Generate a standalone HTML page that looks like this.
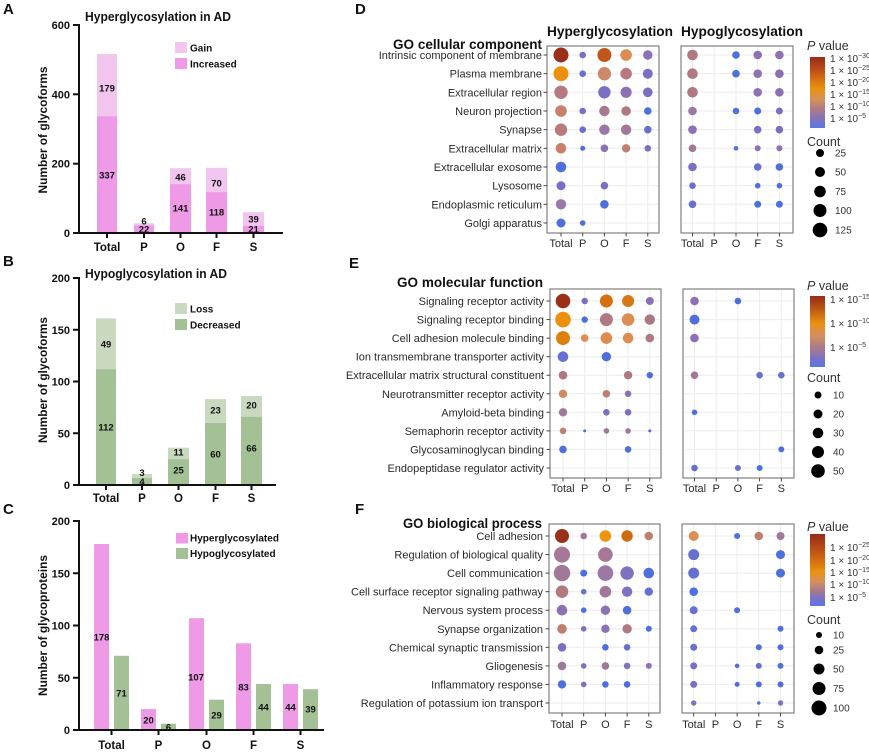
<!DOCTYPE html>
<html><head><meta charset="utf-8"><style>
html,body{margin:0;padding:0;background:#fff;}
svg{display:block;}
.b{font-family:"Liberation Sans",sans-serif;font-weight:bold;fill:#111;}
.r{font-family:"Liberation Sans",sans-serif;fill:#333;}
.lab{font-family:"Liberation Sans",sans-serif;font-size:11px;fill:#2a2a2a;text-anchor:end;}
.xl{font-family:"Liberation Sans",sans-serif;font-size:11px;fill:#2a2a2a;text-anchor:middle;}
.nb{font-family:"Liberation Sans",sans-serif;font-weight:bold;font-size:9.5px;fill:#111;text-anchor:middle;}
.tk{font-family:"Liberation Sans",sans-serif;font-weight:bold;font-size:11px;fill:#111;text-anchor:end;}
.xb{font-family:"Liberation Sans",sans-serif;font-weight:bold;font-size:11.5px;fill:#111;text-anchor:middle;}
.lg{font-family:"Liberation Sans",sans-serif;font-size:10px;fill:#333;}
.grid line{stroke:#ebebeb;stroke-width:1;}
</style></head><body>
<svg width="869" height="752" viewBox="0 0 869 752" xmlns="http://www.w3.org/2000/svg">
<defs>
<linearGradient id="gD" x1="0" y1="0" x2="0" y2="1">
<stop offset="0" stop-color="#972c17"/><stop offset="0.15" stop-color="#b64718"/><stop offset="0.35" stop-color="#dd7a10"/><stop offset="0.45" stop-color="#ea920e"/><stop offset="0.6" stop-color="#d4905e"/><stop offset="0.72" stop-color="#b37d7e"/><stop offset="0.85" stop-color="#8a72b6"/><stop offset="1" stop-color="#5878e4"/>
</linearGradient>
<linearGradient id="gE" x1="0" y1="0" x2="0" y2="1">
<stop offset="0" stop-color="#972c17"/><stop offset="0.15" stop-color="#b54d16"/><stop offset="0.38" stop-color="#e8900e"/><stop offset="0.55" stop-color="#d4905e"/><stop offset="0.72" stop-color="#ad7b86"/><stop offset="0.88" stop-color="#7c70c6"/><stop offset="1" stop-color="#5878e4"/>
</linearGradient>
<linearGradient id="gF" x1="0" y1="0" x2="0" y2="1">
<stop offset="0" stop-color="#972c17"/><stop offset="0.2" stop-color="#b84c16"/><stop offset="0.4" stop-color="#d97510"/><stop offset="0.52" stop-color="#ea920e"/><stop offset="0.66" stop-color="#d4905e"/><stop offset="0.78" stop-color="#ab7a88"/><stop offset="0.9" stop-color="#7a70c8"/><stop offset="1" stop-color="#5878e4"/>
</linearGradient>
</defs>

<!-- ================= Panel A ================= -->
<text class="b" x="3" y="14" font-size="15">A</text>
<text class="b" x="85" y="21" font-size="12.5" textLength="146" lengthAdjust="spacingAndGlyphs">Hyperglycosylation in AD</text>
<text class="b" font-size="11.5" transform="translate(47,130) rotate(-90)" text-anchor="middle" textLength="127" lengthAdjust="spacingAndGlyphs">Number of glycoforms</text>
<g fill="#f1c5ed">
<rect x="97" y="54.1" width="20" height="62.1"/>
<rect x="134" y="223.3" width="20" height="2.1"/>
<rect x="170" y="168.2" width="21" height="15.9"/>
<rect x="206" y="167.8" width="21" height="24.3"/>
<rect x="243" y="212.2" width="21" height="13.5"/>
</g>
<g fill="#ee9ae6">
<rect x="97" y="116.2" width="20" height="116.8"/>
<rect x="134" y="225.4" width="20" height="7.6"/>
<rect x="170" y="184.1" width="21" height="48.9"/>
<rect x="206" y="192.1" width="21" height="40.9"/>
<rect x="243" y="225.7" width="21" height="7.3"/>
</g>
<g stroke="#111" stroke-width="2" fill="none">
<line x1="79" y1="24" x2="79" y2="234"/>
<line x1="78" y1="233" x2="283" y2="233"/>
<line x1="73" y1="25" x2="79" y2="25"/><line x1="73" y1="94.3" x2="79" y2="94.3"/><line x1="73" y1="163.7" x2="79" y2="163.7"/><line x1="73" y1="233" x2="79" y2="233"/>
<line x1="107" y1="233" x2="107" y2="238"/><line x1="144" y1="233" x2="144" y2="238"/><line x1="180.5" y1="233" x2="180.5" y2="238"/><line x1="216.5" y1="233" x2="216.5" y2="238"/><line x1="253.5" y1="233" x2="253.5" y2="238"/>
</g>
<text class="tk" x="70" y="29">600</text><text class="tk" x="70" y="98.3">400</text><text class="tk" x="70" y="167.7">200</text><text class="tk" x="70" y="237">0</text>
<text class="xb" x="107" y="251">Total</text><text class="xb" x="144" y="251">P</text><text class="xb" x="180.5" y="251">O</text><text class="xb" x="216.5" y="251">F</text><text class="xb" x="253.5" y="251">S</text>
<text class="nb" x="107" y="91.5">179</text><text class="nb" x="107" y="178.5">337</text>
<text class="nb" x="144" y="224.5">6</text><text class="nb" x="144" y="232.5">22</text>
<text class="nb" x="180.5" y="180.5">46</text><text class="nb" x="180.5" y="211.5">141</text>
<text class="nb" x="216.5" y="186.5">70</text><text class="nb" x="216.5" y="215.5">118</text>
<text class="nb" x="253.5" y="222.5">39</text><text class="nb" x="253.5" y="232.5">21</text>
<rect x="175" y="42" width="12" height="11" fill="#f1c5ed"/>
<rect x="175" y="58" width="12" height="11" fill="#ee9ae6"/>
<text class="b" x="190" y="51.5" font-size="10">Gain</text>
<text class="b" x="190" y="67.5" font-size="10">Increased</text>

<!-- ================= Panel B ================= -->
<text class="b" x="3" y="266" font-size="15">B</text>
<text class="b" x="85" y="278" font-size="12.5" textLength="142" lengthAdjust="spacingAndGlyphs">Hypoglycosylation in AD</text>
<text class="b" font-size="11.5" transform="translate(47,380) rotate(-90)" text-anchor="middle" textLength="126" lengthAdjust="spacingAndGlyphs">Number of glycoforms</text>
<g fill="#c9d9c0">
<rect x="96" y="318.4" width="20" height="50.7"/>
<rect x="132" y="474" width="20" height="4"/>
<rect x="168" y="447.7" width="21" height="11.4"/>
<rect x="205" y="399.1" width="21" height="23.8"/>
<rect x="241" y="396" width="21" height="20.7"/>
</g>
<g fill="#a4c196">
<rect x="96" y="369.1" width="20" height="115.9"/>
<rect x="132" y="478" width="20" height="7"/>
<rect x="168" y="459.1" width="21" height="25.9"/>
<rect x="205" y="422.9" width="21" height="62.1"/>
<rect x="241" y="416.7" width="21" height="68.3"/>
</g>
<g stroke="#111" stroke-width="2" fill="none">
<line x1="79" y1="277" x2="79" y2="486"/>
<line x1="78" y1="485" x2="276" y2="485"/>
<line x1="73" y1="278" x2="79" y2="278"/><line x1="73" y1="329.75" x2="79" y2="329.75"/><line x1="73" y1="381.5" x2="79" y2="381.5"/><line x1="73" y1="433.25" x2="79" y2="433.25"/><line x1="73" y1="485" x2="79" y2="485"/>
<line x1="106" y1="485" x2="106" y2="490"/><line x1="142" y1="485" x2="142" y2="490"/><line x1="178.5" y1="485" x2="178.5" y2="490"/><line x1="215.5" y1="485" x2="215.5" y2="490"/><line x1="251.5" y1="485" x2="251.5" y2="490"/>
</g>
<text class="tk" x="70" y="282">200</text><text class="tk" x="70" y="333.75">150</text><text class="tk" x="70" y="385.5">100</text><text class="tk" x="70" y="437.25">50</text><text class="tk" x="70" y="489">0</text>
<text class="xb" x="106" y="502">Total</text><text class="xb" x="142" y="502">P</text><text class="xb" x="178.5" y="502">O</text><text class="xb" x="215.5" y="502">F</text><text class="xb" x="251.5" y="502">S</text>
<text class="nb" x="106" y="347.5">49</text><text class="nb" x="106" y="430.5">112</text>
<text class="nb" x="142" y="476">3</text><text class="nb" x="142" y="485">4</text>
<text class="nb" x="178.5" y="455.5">11</text><text class="nb" x="178.5" y="473.5">25</text>
<text class="nb" x="215.5" y="413.5">23</text><text class="nb" x="215.5" y="457.5">60</text>
<text class="nb" x="251.5" y="408.5">20</text><text class="nb" x="251.5" y="451.5">66</text>
<rect x="175" y="303" width="12" height="11" fill="#c9d9c0"/>
<rect x="175" y="319" width="12" height="11" fill="#a4c196"/>
<text class="b" x="190" y="312.5" font-size="10">Loss</text>
<text class="b" x="190" y="328.5" font-size="10">Decreased</text>

<!-- ================= Panel C ================= -->
<text class="b" x="3" y="514" font-size="15">C</text>
<text class="b" font-size="11.5" transform="translate(47,625.5) rotate(-90)" text-anchor="middle" textLength="141" lengthAdjust="spacingAndGlyphs">Number of glycoproteins</text>
<g fill="#ee9ae6">
<rect x="94" y="544" width="15" height="186"/>
<rect x="141" y="709.1" width="15" height="20.9"/>
<rect x="189" y="618.2" width="15" height="111.8"/>
<rect x="236" y="643.3" width="15" height="86.7"/>
<rect x="283" y="684" width="15" height="46"/>
</g>
<g fill="#a4c196">
<rect x="114" y="655.8" width="15" height="74.2"/>
<rect x="161" y="723.7" width="15" height="6.3"/>
<rect x="209" y="699.7" width="15" height="30.3"/>
<rect x="256" y="684" width="15" height="46"/>
<rect x="303" y="689.2" width="15" height="40.8"/>
</g>
<g stroke="#111" stroke-width="2" fill="none">
<line x1="79" y1="520" x2="79" y2="731"/>
<line x1="78" y1="730" x2="324" y2="730"/>
<line x1="73" y1="521" x2="79" y2="521"/><line x1="73" y1="573.25" x2="79" y2="573.25"/><line x1="73" y1="625.5" x2="79" y2="625.5"/><line x1="73" y1="677.75" x2="79" y2="677.75"/><line x1="73" y1="730" x2="79" y2="730"/>
<line x1="111.5" y1="730" x2="111.5" y2="735"/><line x1="158.5" y1="730" x2="158.5" y2="735"/><line x1="206.5" y1="730" x2="206.5" y2="735"/><line x1="253.5" y1="730" x2="253.5" y2="735"/><line x1="300.5" y1="730" x2="300.5" y2="735"/>
</g>
<text class="tk" x="70" y="525">200</text><text class="tk" x="70" y="577.25">150</text><text class="tk" x="70" y="629.5">100</text><text class="tk" x="70" y="681.75">50</text><text class="tk" x="70" y="734">0</text>
<text class="xb" x="111.5" y="749">Total</text><text class="xb" x="158.5" y="749">P</text><text class="xb" x="206.5" y="749">O</text><text class="xb" x="253.5" y="749">F</text><text class="xb" x="300.5" y="749">S</text>
<text class="nb" x="101.5" y="640.5">178</text><text class="nb" x="121.5" y="696.5">71</text>
<text class="nb" x="148.5" y="723.5">20</text><text class="nb" x="168.5" y="730.5">6</text>
<text class="nb" x="196" y="680.5">107</text><text class="nb" x="216.5" y="718.5">29</text>
<text class="nb" x="243.5" y="690.5">83</text><text class="nb" x="263.5" y="710.5">44</text>
<text class="nb" x="290.5" y="710.5">44</text><text class="nb" x="310.5" y="712.5">39</text>
<rect x="176" y="533" width="12" height="10.5" fill="#ee9ae6"/>
<rect x="176" y="548" width="12" height="11" fill="#a4c196"/>
<text class="b" x="190" y="541.5" font-size="10">Hyperglycosylated</text>
<text class="b" x="190" y="557" font-size="10">Hypoglycosylated</text>

<!-- ================= Panel D ================= -->
<text class="b" x="355" y="14" font-size="15">D</text>
<text class="b" x="547" y="36" font-size="14" textLength="126" lengthAdjust="spacingAndGlyphs">Hyperglycosylation</text>
<text class="b" x="681" y="36" font-size="14" textLength="122" lengthAdjust="spacingAndGlyphs">Hypoglycosylation</text>
<text class="b" x="542" y="49" font-size="14" text-anchor="end" textLength="149" lengthAdjust="spacingAndGlyphs">GO cellular component</text>
<g class="grid">
<line x1="547" y1="55" x2="659" y2="55"/><line x1="547" y1="73.7" x2="659" y2="73.7"/><line x1="547" y1="92.3" x2="659" y2="92.3"/><line x1="547" y1="111" x2="659" y2="111"/><line x1="547" y1="129.7" x2="659" y2="129.7"/><line x1="547" y1="148.3" x2="659" y2="148.3"/><line x1="547" y1="167" x2="659" y2="167"/><line x1="547" y1="185.7" x2="659" y2="185.7"/><line x1="547" y1="204.3" x2="659" y2="204.3"/><line x1="547" y1="223" x2="659" y2="223"/>
<line x1="561" y1="46" x2="561" y2="233"/><line x1="582.7" y1="46" x2="582.7" y2="233"/><line x1="604.4" y1="46" x2="604.4" y2="233"/><line x1="626.1" y1="46" x2="626.1" y2="233"/><line x1="647.8" y1="46" x2="647.8" y2="233"/>
<line x1="681" y1="55" x2="793" y2="55"/><line x1="681" y1="73.7" x2="793" y2="73.7"/><line x1="681" y1="92.3" x2="793" y2="92.3"/><line x1="681" y1="111" x2="793" y2="111"/><line x1="681" y1="129.7" x2="793" y2="129.7"/><line x1="681" y1="148.3" x2="793" y2="148.3"/><line x1="681" y1="167" x2="793" y2="167"/><line x1="681" y1="185.7" x2="793" y2="185.7"/><line x1="681" y1="204.3" x2="793" y2="204.3"/><line x1="681" y1="223" x2="793" y2="223"/>
<line x1="692.5" y1="46" x2="692.5" y2="233"/><line x1="714.2" y1="46" x2="714.2" y2="233"/><line x1="736" y1="46" x2="736" y2="233"/><line x1="757.7" y1="46" x2="757.7" y2="233"/><line x1="779.4" y1="46" x2="779.4" y2="233"/>
</g>
<rect x="547" y="46" width="112" height="187" fill="none" stroke="#808080" stroke-width="1.2"/>
<rect x="681" y="46" width="112" height="187" fill="none" stroke="#808080" stroke-width="1.2"/>
<g stroke="#333" stroke-width="0.9">
<line x1="543.5" y1="55" x2="547" y2="55"/><line x1="543.5" y1="73.7" x2="547" y2="73.7"/><line x1="543.5" y1="92.3" x2="547" y2="92.3"/><line x1="543.5" y1="111" x2="547" y2="111"/><line x1="543.5" y1="129.7" x2="547" y2="129.7"/><line x1="543.5" y1="148.3" x2="547" y2="148.3"/><line x1="543.5" y1="167" x2="547" y2="167"/><line x1="543.5" y1="185.7" x2="547" y2="185.7"/><line x1="543.5" y1="204.3" x2="547" y2="204.3"/><line x1="543.5" y1="223" x2="547" y2="223"/>
<line x1="561" y1="233" x2="561" y2="236.5"/><line x1="582.7" y1="233" x2="582.7" y2="236.5"/><line x1="604.4" y1="233" x2="604.4" y2="236.5"/><line x1="626.1" y1="233" x2="626.1" y2="236.5"/><line x1="647.8" y1="233" x2="647.8" y2="236.5"/>
<line x1="692.5" y1="233" x2="692.5" y2="236.5"/><line x1="714.2" y1="233" x2="714.2" y2="236.5"/><line x1="736" y1="233" x2="736" y2="236.5"/><line x1="757.7" y1="233" x2="757.7" y2="236.5"/><line x1="779.4" y1="233" x2="779.4" y2="236.5"/>
</g>
<text class="lab" x="542" y="59">Intrinsic component of membrane</text>
<text class="lab" x="542" y="77.7">Plasma membrane</text>
<text class="lab" x="542" y="96.3">Extracellular region</text>
<text class="lab" x="542" y="115">Neuron projection</text>
<text class="lab" x="542" y="133.7">Synapse</text>
<text class="lab" x="542" y="152.3">Extracellular matrix</text>
<text class="lab" x="542" y="171">Extracellular exosome</text>
<text class="lab" x="542" y="189.7">Lysosome</text>
<text class="lab" x="542" y="208.3">Endoplasmic reticulum</text>
<text class="lab" x="542" y="227">Golgi apparatus</text>
<text class="xl" x="561" y="247">Total</text><text class="xl" x="582.7" y="247">P</text><text class="xl" x="604.4" y="247">O</text><text class="xl" x="626.1" y="247">F</text><text class="xl" x="647.8" y="247">S</text>
<text class="xl" x="692.5" y="247">Total</text><text class="xl" x="714.2" y="247">P</text><text class="xl" x="736" y="247">O</text><text class="xl" x="757.7" y="247">F</text><text class="xl" x="779.4" y="247">S</text>
<g>
<circle cx="561" cy="55" r="7.5" fill="#9a3019"/><circle cx="582.7" cy="55" r="3.3" fill="#7b6fc4"/><circle cx="604.4" cy="55" r="7" fill="#c0561a"/><circle cx="626.1" cy="55" r="5.8" fill="#dd8d52"/><circle cx="647.8" cy="55" r="4.7" fill="#8c72b4"/>
<circle cx="561" cy="73.7" r="7.5" fill="#ec900e"/><circle cx="582.7" cy="73.7" r="3.3" fill="#6670d0"/><circle cx="604.4" cy="73.7" r="6.7" fill="#cc8a6c"/><circle cx="626.1" cy="73.7" r="5.8" fill="#b87a80"/><circle cx="647.8" cy="73.7" r="5" fill="#7b6fc4"/>
<circle cx="561" cy="92.3" r="6.7" fill="#b47a80"/><circle cx="604.4" cy="92.3" r="6.2" fill="#7b6fc4"/><circle cx="626.1" cy="92.3" r="5.6" fill="#8c72b4"/><circle cx="647.8" cy="92.3" r="4.8" fill="#7b6fc4"/>
<circle cx="561" cy="111" r="5.8" fill="#c8806a"/><circle cx="582.7" cy="111" r="3.3" fill="#7b6fc4"/><circle cx="604.4" cy="111" r="5.2" fill="#a87890"/><circle cx="626.1" cy="111" r="4.8" fill="#b07880"/><circle cx="647.8" cy="111" r="3.8" fill="#4f6fdc"/>
<circle cx="561" cy="129.7" r="6.2" fill="#b87a7c"/><circle cx="582.7" cy="129.7" r="3.3" fill="#6670d0"/><circle cx="604.4" cy="129.7" r="5.2" fill="#9a76a8"/><circle cx="626.1" cy="129.7" r="5.2" fill="#a0789c"/><circle cx="647.8" cy="129.7" r="3.8" fill="#6670d0"/>
<circle cx="561" cy="148.3" r="5.3" fill="#c8806a"/><circle cx="582.7" cy="148.3" r="2.5" fill="#4f6fdc"/><circle cx="604.4" cy="148.3" r="3.8" fill="#8c72b4"/><circle cx="626.1" cy="148.3" r="4.2" fill="#c08070"/><circle cx="647.8" cy="148.3" r="3.3" fill="#7b6fc4"/>
<circle cx="561" cy="167" r="5.3" fill="#4f6fdc"/>
<circle cx="561" cy="185.7" r="4.5" fill="#7b6fc4"/><circle cx="604.4" cy="185.7" r="3.8" fill="#7b6fc4"/>
<circle cx="561" cy="204.3" r="5.2" fill="#9a78a8"/><circle cx="604.4" cy="204.3" r="4.3" fill="#4f6fdc"/>
<circle cx="561" cy="223" r="4.5" fill="#4f6fdc"/><circle cx="582.7" cy="223" r="2.8" fill="#4f6fdc"/>

<circle cx="692.5" cy="55" r="5.3" fill="#b07880"/><circle cx="736" cy="55" r="3.8" fill="#4f6fdc"/><circle cx="757.7" cy="55" r="4.3" fill="#8c72b4"/><circle cx="779.4" cy="55" r="4.3" fill="#9070b0"/>
<circle cx="692.5" cy="73.7" r="5.3" fill="#b07880"/><circle cx="736" cy="73.7" r="3.8" fill="#4f6fdc"/><circle cx="757.7" cy="73.7" r="4.3" fill="#9070b0"/><circle cx="779.4" cy="73.7" r="4.3" fill="#9070b0"/>
<circle cx="692.5" cy="92.3" r="5.3" fill="#b07880"/><circle cx="757.7" cy="92.3" r="4.3" fill="#9070b0"/><circle cx="779.4" cy="92.3" r="4.3" fill="#9070b0"/>
<circle cx="692.5" cy="111" r="4.3" fill="#9c76a4"/><circle cx="736" cy="111" r="3.3" fill="#4f6fdc"/><circle cx="757.7" cy="111" r="3.5" fill="#4f6fdc"/><circle cx="779.4" cy="111" r="3.5" fill="#7b6fc4"/>
<circle cx="692.5" cy="129.7" r="4.3" fill="#8c72b4"/><circle cx="757.7" cy="129.7" r="3.8" fill="#7b6fc4"/><circle cx="779.4" cy="129.7" r="3.8" fill="#7b6fc4"/>
<circle cx="692.5" cy="148.3" r="3.8" fill="#a07898"/><circle cx="736" cy="148.3" r="2.3" fill="#4f6fdc"/><circle cx="757.7" cy="148.3" r="3" fill="#8c72b4"/><circle cx="779.4" cy="148.3" r="3" fill="#8c72b4"/>
<circle cx="692.5" cy="167" r="4.3" fill="#7b6fc4"/><circle cx="757.7" cy="167" r="3.8" fill="#6670d0"/><circle cx="779.4" cy="167" r="3.8" fill="#4f6fdc"/>
<circle cx="692.5" cy="185.7" r="3.3" fill="#6670d0"/><circle cx="757.7" cy="185.7" r="2.8" fill="#4f6fdc"/><circle cx="779.4" cy="185.7" r="2.8" fill="#4f6fdc"/>
<circle cx="692.5" cy="204.3" r="3.8" fill="#6670d0"/><circle cx="757.7" cy="204.3" r="3.5" fill="#4f6fdc"/><circle cx="779.4" cy="204.3" r="3.5" fill="#4f6fdc"/>
</g>
<!-- D legend -->
<text class="r" x="807" y="50" font-size="12.5"><tspan font-style="italic">P</tspan> value</text>
<rect x="810" y="57" width="15" height="71" fill="url(#gD)"/>
<text class="lg" x="830" y="62">1 × 10<tspan dy="-4" font-size="7">−30</tspan></text>
<text class="lg" x="830" y="74">1 × 10<tspan dy="-4" font-size="7">−25</tspan></text>
<text class="lg" x="830" y="86">1 × 10<tspan dy="-4" font-size="7">−20</tspan></text>
<text class="lg" x="830" y="98">1 × 10<tspan dy="-4" font-size="7">−15</tspan></text>
<text class="lg" x="830" y="110">1 × 10<tspan dy="-4" font-size="7">−10</tspan></text>
<text class="lg" x="830" y="122">1 × 10<tspan dy="-4" font-size="7">−5</tspan></text>
<text class="r" x="807" y="146" font-size="12.5">Count</text>
<circle cx="820" cy="153" r="4" fill="#000"/><circle cx="820" cy="172" r="5" fill="#000"/><circle cx="820" cy="191.5" r="5.8" fill="#000"/><circle cx="820" cy="210.5" r="6.5" fill="#000"/><circle cx="820" cy="230" r="7.3" fill="#000"/>
<text class="lg" x="835" y="156.5" font-size="10.5">25</text><text class="lg" x="835" y="175.5" font-size="10.5">50</text><text class="lg" x="835" y="195" font-size="10.5">75</text><text class="lg" x="835" y="214" font-size="10.5">100</text><text class="lg" x="835" y="233.5" font-size="10.5">125</text>

<!-- ================= Panel E ================= -->
<text class="b" x="349" y="268" font-size="15">E</text>
<text class="b" x="543" y="287" font-size="14" text-anchor="end" textLength="146" lengthAdjust="spacingAndGlyphs">GO molecular function</text>
<g class="grid">
<line x1="550" y1="301" x2="661" y2="301"/><line x1="550" y1="319.6" x2="661" y2="319.6"/><line x1="550" y1="338.1" x2="661" y2="338.1"/><line x1="550" y1="356.7" x2="661" y2="356.7"/><line x1="550" y1="375.2" x2="661" y2="375.2"/><line x1="550" y1="393.8" x2="661" y2="393.8"/><line x1="550" y1="412.3" x2="661" y2="412.3"/><line x1="550" y1="430.9" x2="661" y2="430.9"/><line x1="550" y1="449.4" x2="661" y2="449.4"/><line x1="550" y1="468" x2="661" y2="468"/>
<line x1="563" y1="289" x2="563" y2="478"/><line x1="584.7" y1="289" x2="584.7" y2="478"/><line x1="606.4" y1="289" x2="606.4" y2="478"/><line x1="628.1" y1="289" x2="628.1" y2="478"/><line x1="649.8" y1="289" x2="649.8" y2="478"/>
<line x1="683" y1="301" x2="794" y2="301"/><line x1="683" y1="319.6" x2="794" y2="319.6"/><line x1="683" y1="338.1" x2="794" y2="338.1"/><line x1="683" y1="356.7" x2="794" y2="356.7"/><line x1="683" y1="375.2" x2="794" y2="375.2"/><line x1="683" y1="393.8" x2="794" y2="393.8"/><line x1="683" y1="412.3" x2="794" y2="412.3"/><line x1="683" y1="430.9" x2="794" y2="430.9"/><line x1="683" y1="449.4" x2="794" y2="449.4"/><line x1="683" y1="468" x2="794" y2="468"/>
<line x1="694.5" y1="289" x2="694.5" y2="478"/><line x1="716.2" y1="289" x2="716.2" y2="478"/><line x1="737.9" y1="289" x2="737.9" y2="478"/><line x1="759.6" y1="289" x2="759.6" y2="478"/><line x1="781.3" y1="289" x2="781.3" y2="478"/>
</g>
<rect x="550" y="289" width="111" height="189" fill="none" stroke="#808080" stroke-width="1.2"/>
<rect x="683" y="289" width="111" height="189" fill="none" stroke="#808080" stroke-width="1.2"/>
<g stroke="#333" stroke-width="0.9">
<line x1="546.5" y1="301" x2="550" y2="301"/><line x1="546.5" y1="319.6" x2="550" y2="319.6"/><line x1="546.5" y1="338.1" x2="550" y2="338.1"/><line x1="546.5" y1="356.7" x2="550" y2="356.7"/><line x1="546.5" y1="375.2" x2="550" y2="375.2"/><line x1="546.5" y1="393.8" x2="550" y2="393.8"/><line x1="546.5" y1="412.3" x2="550" y2="412.3"/><line x1="546.5" y1="430.9" x2="550" y2="430.9"/><line x1="546.5" y1="449.4" x2="550" y2="449.4"/><line x1="546.5" y1="468" x2="550" y2="468"/>
<line x1="563" y1="478" x2="563" y2="481.5"/><line x1="584.7" y1="478" x2="584.7" y2="481.5"/><line x1="606.4" y1="478" x2="606.4" y2="481.5"/><line x1="628.1" y1="478" x2="628.1" y2="481.5"/><line x1="649.8" y1="478" x2="649.8" y2="481.5"/>
<line x1="694.5" y1="478" x2="694.5" y2="481.5"/><line x1="716.2" y1="478" x2="716.2" y2="481.5"/><line x1="737.9" y1="478" x2="737.9" y2="481.5"/><line x1="759.6" y1="478" x2="759.6" y2="481.5"/><line x1="781.3" y1="478" x2="781.3" y2="481.5"/>
</g>
<text class="lab" x="544" y="305">Signaling receptor activity</text>
<text class="lab" x="544" y="323.6">Signaling receptor binding</text>
<text class="lab" x="544" y="342.1">Cell adhesion molecule binding</text>
<text class="lab" x="544" y="360.7">Ion transmembrane transporter activity</text>
<text class="lab" x="544" y="379.2">Extracellular matrix structural constituent</text>
<text class="lab" x="544" y="397.8">Neurotransmitter receptor activity</text>
<text class="lab" x="544" y="416.3">Amyloid-beta binding</text>
<text class="lab" x="544" y="434.9">Semaphorin receptor activity</text>
<text class="lab" x="544" y="453.4">Glycosaminoglycan binding</text>
<text class="lab" x="544" y="472">Endopeptidase regulator activity</text>
<text class="xl" x="563" y="492">Total</text><text class="xl" x="584.7" y="492">P</text><text class="xl" x="606.4" y="492">O</text><text class="xl" x="628.1" y="492">F</text><text class="xl" x="649.8" y="492">S</text>
<text class="xl" x="694.5" y="492">Total</text><text class="xl" x="716.2" y="492">P</text><text class="xl" x="737.9" y="492">O</text><text class="xl" x="759.6" y="492">F</text><text class="xl" x="781.3" y="492">S</text>
<g>
<circle cx="563" cy="301" r="7.3" fill="#9a3019"/><circle cx="584.7" cy="301" r="3.2" fill="#7b6fc4"/><circle cx="606.4" cy="301" r="6.5" fill="#d4700e"/><circle cx="628.1" cy="301" r="6" fill="#d87814"/><circle cx="649.8" cy="301" r="4" fill="#8c72b4"/>
<circle cx="563" cy="319.6" r="7.8" fill="#ec900e"/><circle cx="584.7" cy="319.6" r="3.2" fill="#4f6fdc"/><circle cx="606.4" cy="319.6" r="6.5" fill="#b07880"/><circle cx="628.1" cy="319.6" r="6.3" fill="#dd8d52"/><circle cx="649.8" cy="319.6" r="5.2" fill="#a87884"/>
<circle cx="563" cy="338.1" r="7" fill="#de800e"/><circle cx="584.7" cy="338.1" r="3.8" fill="#dd8d52"/><circle cx="606.4" cy="338.1" r="5.8" fill="#dd8d52"/><circle cx="628.1" cy="338.1" r="5.3" fill="#dd8d52"/><circle cx="649.8" cy="338.1" r="4.3" fill="#b07880"/>
<circle cx="563" cy="356.7" r="5.3" fill="#6670d0"/><circle cx="606.4" cy="356.7" r="4.7" fill="#4f6fdc"/>
<circle cx="563" cy="375.2" r="4.3" fill="#b07880"/><circle cx="628.1" cy="375.2" r="4.2" fill="#b07880"/><circle cx="649.8" cy="375.2" r="3.2" fill="#4f6fdc"/>
<circle cx="563" cy="393.8" r="4.2" fill="#d08a60"/><circle cx="606.4" cy="393.8" r="3.8" fill="#c08070"/><circle cx="628.1" cy="393.8" r="3.3" fill="#8c72b4"/>
<circle cx="563" cy="412.3" r="4.2" fill="#a07898"/><circle cx="606.4" cy="412.3" r="3.3" fill="#7b6fc4"/><circle cx="628.1" cy="412.3" r="3.3" fill="#7b6fc4"/>
<circle cx="563" cy="430.9" r="3.3" fill="#c08070"/><circle cx="584.7" cy="430.9" r="1.5" fill="#4f6fdc"/><circle cx="606.4" cy="430.9" r="2.8" fill="#a07898"/><circle cx="628.1" cy="430.9" r="2.8" fill="#a07898"/><circle cx="649.8" cy="430.9" r="1.5" fill="#4f6fdc"/>
<circle cx="563" cy="449.4" r="3.8" fill="#4f6fdc"/><circle cx="628.1" cy="449.4" r="3.3" fill="#4f6fdc"/>

<circle cx="694.5" cy="301" r="4.3" fill="#8c72b4"/><circle cx="737.9" cy="301" r="3.3" fill="#4f6fdc"/>
<circle cx="694.5" cy="319.6" r="5" fill="#4f6fdc"/>
<circle cx="694.5" cy="338.1" r="4.3" fill="#8c72b4"/>
<circle cx="694.5" cy="375.2" r="3.8" fill="#a07898"/><circle cx="759.6" cy="375.2" r="3.3" fill="#6670d0"/><circle cx="781.3" cy="375.2" r="3.3" fill="#6670d0"/>
<circle cx="694.5" cy="412.3" r="2.8" fill="#4f6fdc"/>
<circle cx="781.3" cy="449.4" r="3" fill="#4f6fdc"/>
<circle cx="694.5" cy="468" r="3.3" fill="#6670d0"/><circle cx="737.9" cy="468" r="3" fill="#6670d0"/><circle cx="759.6" cy="468" r="3" fill="#4f6fdc"/>
</g>
<!-- E legend -->
<text class="r" x="807" y="290" font-size="12.5"><tspan font-style="italic">P</tspan> value</text>
<rect x="810" y="296" width="15" height="71" fill="url(#gE)"/>
<text class="lg" x="830" y="303">1 × 10<tspan dy="-4" font-size="7">−15</tspan></text>
<text class="lg" x="830" y="327">1 × 10<tspan dy="-4" font-size="7">−10</tspan></text>
<text class="lg" x="830" y="351">1 × 10<tspan dy="-4" font-size="7">−5</tspan></text>
<text class="r" x="807" y="382" font-size="12.5">Count</text>
<circle cx="818" cy="395" r="3.5" fill="#000"/><circle cx="818" cy="414" r="4.5" fill="#000"/><circle cx="818" cy="433" r="5.3" fill="#000"/><circle cx="818" cy="452" r="6" fill="#000"/><circle cx="818" cy="471" r="6.8" fill="#000"/>
<text class="lg" x="833" y="398.5" font-size="10.5">10</text><text class="lg" x="833" y="417.5" font-size="10.5">20</text><text class="lg" x="833" y="436.5" font-size="10.5">30</text><text class="lg" x="833" y="455.5" font-size="10.5">40</text><text class="lg" x="833" y="474.5" font-size="10.5">50</text>

<!-- ================= Panel F ================= -->
<text class="b" x="355" y="514" font-size="15">F</text>
<text class="b" x="542" y="528" font-size="14" text-anchor="end" textLength="139" lengthAdjust="spacingAndGlyphs">GO biological process</text>
<g class="grid">
<line x1="549" y1="536" x2="660" y2="536"/><line x1="549" y1="554.6" x2="660" y2="554.6"/><line x1="549" y1="573.1" x2="660" y2="573.1"/><line x1="549" y1="591.7" x2="660" y2="591.7"/><line x1="549" y1="610.2" x2="660" y2="610.2"/><line x1="549" y1="628.8" x2="660" y2="628.8"/><line x1="549" y1="647.3" x2="660" y2="647.3"/><line x1="549" y1="665.9" x2="660" y2="665.9"/><line x1="549" y1="684.4" x2="660" y2="684.4"/><line x1="549" y1="703" x2="660" y2="703"/>
<line x1="562" y1="524" x2="562" y2="713"/><line x1="583.7" y1="524" x2="583.7" y2="713"/><line x1="605.4" y1="524" x2="605.4" y2="713"/><line x1="627.1" y1="524" x2="627.1" y2="713"/><line x1="648.8" y1="524" x2="648.8" y2="713"/>
<line x1="682" y1="536" x2="794" y2="536"/><line x1="682" y1="554.6" x2="794" y2="554.6"/><line x1="682" y1="573.1" x2="794" y2="573.1"/><line x1="682" y1="591.7" x2="794" y2="591.7"/><line x1="682" y1="610.2" x2="794" y2="610.2"/><line x1="682" y1="628.8" x2="794" y2="628.8"/><line x1="682" y1="647.3" x2="794" y2="647.3"/><line x1="682" y1="665.9" x2="794" y2="665.9"/><line x1="682" y1="684.4" x2="794" y2="684.4"/><line x1="682" y1="703" x2="794" y2="703"/>
<line x1="693.7" y1="524" x2="693.7" y2="713"/><line x1="715.4" y1="524" x2="715.4" y2="713"/><line x1="737.1" y1="524" x2="737.1" y2="713"/><line x1="758.8" y1="524" x2="758.8" y2="713"/><line x1="780.5" y1="524" x2="780.5" y2="713"/>
</g>
<rect x="549" y="524" width="111" height="189" fill="none" stroke="#808080" stroke-width="1.2"/>
<rect x="682" y="524" width="112" height="189" fill="none" stroke="#808080" stroke-width="1.2"/>
<g stroke="#333" stroke-width="0.9">
<line x1="545.5" y1="536" x2="549" y2="536"/><line x1="545.5" y1="554.6" x2="549" y2="554.6"/><line x1="545.5" y1="573.1" x2="549" y2="573.1"/><line x1="545.5" y1="591.7" x2="549" y2="591.7"/><line x1="545.5" y1="610.2" x2="549" y2="610.2"/><line x1="545.5" y1="628.8" x2="549" y2="628.8"/><line x1="545.5" y1="647.3" x2="549" y2="647.3"/><line x1="545.5" y1="665.9" x2="549" y2="665.9"/><line x1="545.5" y1="684.4" x2="549" y2="684.4"/><line x1="545.5" y1="703" x2="549" y2="703"/>
<line x1="562" y1="713" x2="562" y2="716.5"/><line x1="583.7" y1="713" x2="583.7" y2="716.5"/><line x1="605.4" y1="713" x2="605.4" y2="716.5"/><line x1="627.1" y1="713" x2="627.1" y2="716.5"/><line x1="648.8" y1="713" x2="648.8" y2="716.5"/>
<line x1="693.7" y1="713" x2="693.7" y2="716.5"/><line x1="715.4" y1="713" x2="715.4" y2="716.5"/><line x1="737.1" y1="713" x2="737.1" y2="716.5"/><line x1="758.8" y1="713" x2="758.8" y2="716.5"/><line x1="780.5" y1="713" x2="780.5" y2="716.5"/>
</g>
<text class="lab" x="543" y="540">Cell adhesion</text>
<text class="lab" x="543" y="558.6">Regulation of biological quality</text>
<text class="lab" x="543" y="577.1">Cell communication</text>
<text class="lab" x="543" y="595.7">Cell surface receptor signaling pathway</text>
<text class="lab" x="543" y="614.2">Nervous system process</text>
<text class="lab" x="543" y="632.8">Synapse organization</text>
<text class="lab" x="543" y="651.3">Chemical synaptic transmission</text>
<text class="lab" x="543" y="669.9">Gliogenesis</text>
<text class="lab" x="543" y="688.4">Inflammatory response</text>
<text class="lab" x="543" y="707">Regulation of potassium ion transport</text>
<text class="xl" x="562" y="728">Total</text><text class="xl" x="583.7" y="728">P</text><text class="xl" x="605.4" y="728">O</text><text class="xl" x="627.1" y="728">F</text><text class="xl" x="648.8" y="728">S</text>
<text class="xl" x="693.7" y="728">Total</text><text class="xl" x="715.4" y="728">P</text><text class="xl" x="737.1" y="728">O</text><text class="xl" x="758.8" y="728">F</text><text class="xl" x="780.5" y="728">S</text>
<g>
<circle cx="562" cy="536" r="7" fill="#9a3019"/><circle cx="583.7" cy="536" r="3.3" fill="#a07898"/><circle cx="605.4" cy="536" r="5.8" fill="#ec960e"/><circle cx="627.1" cy="536" r="5.7" fill="#d06c0e"/><circle cx="648.8" cy="536" r="4.3" fill="#c08070"/>
<circle cx="562" cy="554.6" r="8" fill="#a47896"/><circle cx="605.4" cy="554.6" r="7.3" fill="#a47896"/>
<circle cx="562" cy="573.1" r="8.2" fill="#a07898"/><circle cx="583.7" cy="573.1" r="3.5" fill="#4f6fdc"/><circle cx="605.4" cy="573.1" r="7.8" fill="#9c78a4"/><circle cx="627.1" cy="573.1" r="6.7" fill="#8070c0"/><circle cx="648.8" cy="573.1" r="5.3" fill="#4f6fdc"/>
<circle cx="562" cy="591.7" r="6.3" fill="#b47a82"/><circle cx="583.7" cy="591.7" r="2.8" fill="#6670d0"/><circle cx="605.4" cy="591.7" r="5.8" fill="#a07898"/><circle cx="627.1" cy="591.7" r="5.2" fill="#8070c0"/><circle cx="648.8" cy="591.7" r="4.2" fill="#6670d0"/>
<circle cx="562" cy="610.2" r="5.3" fill="#8c72b4"/><circle cx="583.7" cy="610.2" r="2.8" fill="#4f6fdc"/><circle cx="605.4" cy="610.2" r="4.7" fill="#8c72b4"/><circle cx="627.1" cy="610.2" r="4.3" fill="#4f6fdc"/>
<circle cx="562" cy="628.8" r="4.8" fill="#c08070"/><circle cx="583.7" cy="628.8" r="2.8" fill="#7b6fc4"/><circle cx="605.4" cy="628.8" r="4.2" fill="#8c72b4"/><circle cx="627.1" cy="628.8" r="4.7" fill="#b07880"/><circle cx="648.8" cy="628.8" r="3" fill="#4f6fdc"/>
<circle cx="562" cy="647.3" r="4.3" fill="#7b6fc4"/><circle cx="605.4" cy="647.3" r="3.3" fill="#4f6fdc"/><circle cx="627.1" cy="647.3" r="3.3" fill="#6670d0"/>
<circle cx="562" cy="665.9" r="4.3" fill="#a07898"/><circle cx="583.7" cy="665.9" r="2.8" fill="#8070c0"/><circle cx="605.4" cy="665.9" r="3.8" fill="#a07898"/><circle cx="627.1" cy="665.9" r="3.3" fill="#8070c0"/><circle cx="648.8" cy="665.9" r="3" fill="#8c72b4"/>
<circle cx="562" cy="684.4" r="4.2" fill="#4f6fdc"/><circle cx="583.7" cy="684.4" r="2.8" fill="#7b6fc4"/><circle cx="605.4" cy="684.4" r="3.3" fill="#4f6fdc"/><circle cx="627.1" cy="684.4" r="3.3" fill="#4f6fdc"/>

<circle cx="693.7" cy="536" r="5" fill="#dc8e50"/><circle cx="737.1" cy="536" r="3" fill="#4f6fdc"/><circle cx="758.8" cy="536" r="4.3" fill="#c08070"/><circle cx="780.5" cy="536" r="4" fill="#a07898"/>
<circle cx="693.7" cy="554.6" r="5.5" fill="#6670d0"/><circle cx="780.5" cy="554.6" r="4.5" fill="#4f6fdc"/>
<circle cx="693.7" cy="573.1" r="5.5" fill="#6670d0"/><circle cx="780.5" cy="573.1" r="4.5" fill="#4f6fdc"/>
<circle cx="693.7" cy="591.7" r="4.3" fill="#4f6fdc"/>
<circle cx="693.7" cy="610.2" r="4" fill="#6670d0"/><circle cx="737.1" cy="610.2" r="3" fill="#4f6fdc"/>
<circle cx="693.7" cy="628.8" r="3.5" fill="#6670d0"/><circle cx="780.5" cy="628.8" r="3" fill="#4f6fdc"/>
<circle cx="693.7" cy="647.3" r="3.5" fill="#6670d0"/><circle cx="758.8" cy="647.3" r="3" fill="#4f6fdc"/><circle cx="780.5" cy="647.3" r="3" fill="#4f6fdc"/>
<circle cx="693.7" cy="665.9" r="3.5" fill="#7b6fc4"/><circle cx="737.1" cy="665.9" r="2.3" fill="#4f6fdc"/><circle cx="758.8" cy="665.9" r="3" fill="#6670d0"/><circle cx="780.5" cy="665.9" r="3" fill="#4f6fdc"/>
<circle cx="693.7" cy="684.4" r="3.5" fill="#7b6fc4"/><circle cx="737.1" cy="684.4" r="2.5" fill="#4f6fdc"/><circle cx="758.8" cy="684.4" r="3" fill="#4f6fdc"/><circle cx="780.5" cy="684.4" r="3" fill="#4f6fdc"/>
<circle cx="693.7" cy="703" r="2.7" fill="#8070c0"/><circle cx="758.8" cy="703" r="1.7" fill="#4f6fdc"/><circle cx="780.5" cy="703" r="2.7" fill="#8070c0"/>
</g>
<!-- F legend -->
<text class="r" x="807" y="531" font-size="12.5"><tspan font-style="italic">P</tspan> value</text>
<rect x="810" y="534" width="15" height="72" fill="url(#gF)"/>
<text class="lg" x="830" y="551">1 × 10<tspan dy="-4" font-size="7">−25</tspan></text>
<text class="lg" x="830" y="564">1 × 10<tspan dy="-4" font-size="7">−20</tspan></text>
<text class="lg" x="830" y="576">1 × 10<tspan dy="-4" font-size="7">−15</tspan></text>
<text class="lg" x="830" y="588">1 × 10<tspan dy="-4" font-size="7">−10</tspan></text>
<text class="lg" x="830" y="601">1 × 10<tspan dy="-4" font-size="7">−5</tspan></text>
<text class="r" x="807" y="624" font-size="12.5">Count</text>
<circle cx="819" cy="635" r="3" fill="#000"/><circle cx="819" cy="650" r="4.3" fill="#000"/><circle cx="819" cy="669" r="5.5" fill="#000"/><circle cx="819" cy="688.5" r="6.5" fill="#000"/><circle cx="819" cy="708" r="7.5" fill="#000"/>
<text class="lg" x="833" y="638.5" font-size="10.5">10</text><text class="lg" x="833" y="653.5" font-size="10.5">25</text><text class="lg" x="833" y="672.5" font-size="10.5">50</text><text class="lg" x="833" y="692" font-size="10.5">75</text><text class="lg" x="833" y="711.5" font-size="10.5">100</text>
</svg>
</body></html>
